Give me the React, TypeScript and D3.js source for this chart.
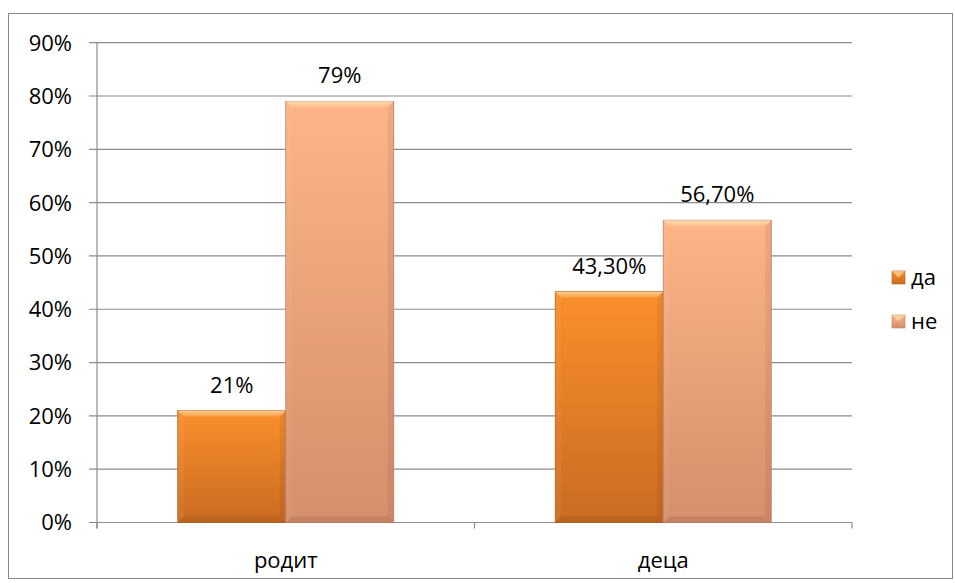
import React from "react";
import * as d3 from "d3";

const categories = ["родит", "деца"];
const seriesNames = ["да", "не"];
const daValues = [0.21, 0.433];
const neValues = [0.79, 0.567];
const valueLabels = [["21%", "79%"], ["43,30%", "56,70%"]];
const yTicks = [0, 0.1, 0.2, 0.3, 0.4, 0.5, 0.6, 0.7, 0.8, 0.9];

const W = 955, H = 583;
const margin = { left: 97, right: 852, top: 42.7, bottom: 522.5 };
const font = "'Open Sans', 'Liberation Sans', sans-serif";
const fs = 22;

export default function App() {
  const x0 = d3.scaleBand().domain(categories).range([margin.left, margin.right]).paddingInner(0).paddingOuter(0);
  const x1 = d3.scaleBand().domain(seriesNames).range([0, 216]);
  const y = d3.scaleLinear().domain([0, 0.9]).range([margin.bottom, margin.top]);
  const colorsTop = ["#FA8F2C", "#FDB486"];
  const colorsBot = ["#CA6B21", "#D68E6C"];
  const strokes = ["#B25E1C", "#C08064"];
  const series = [daValues, neValues];
  const bevel = 6;

  const bar = (cat: string, si: number, v: number, key: string) => {
    const cx = (x0(cat) as number) + x0.bandwidth() / 2;
    const bx = cx - 108 + (x1(seriesNames[si]) as number);
    const bw = x1.bandwidth();
    const by = y(v);
    const bh = y(0) - by;
    const b = Math.min(bevel, bh / 2);
    return (
      <g key={key}>
        <rect x={bx} y={by} width={bw} height={bh} fill={`url(#g${si})`} stroke={strokes[si]} strokeWidth={0.8} />
        <polygon points={`${bx},${by} ${bx + bw},${by} ${bx + bw - b},${by + b} ${bx + b},${by + b}`} fill="url(#topb)" opacity={0.75} />
        <polygon points={`${bx},${by} ${bx + b},${by + b} ${bx + b},${by + bh - b} ${bx},${by + bh}`} fill="#fff" opacity={0.05} />
        <polygon points={`${bx + bw},${by} ${bx + bw},${by + bh} ${bx + bw - b},${by + bh - b} ${bx + bw - b},${by + b}`} fill="#000" opacity={0.06} />
        <polygon points={`${bx},${by + bh} ${bx + bw},${by + bh} ${bx + bw - b},${by + bh - b} ${bx + b},${by + bh - b}`} fill="#000" opacity={0.08} />
      </g>
    );
  };

  return (
    <svg width={W} height={H} style={{ position: "absolute", left: 0, top: 0 }}>
      <defs>
        {[0, 1].map((i) => (
          <linearGradient key={i} id={`g${i}`} x1="0" y1="0" x2="0" y2="1">
            <stop offset="0" stopColor={colorsTop[i]} />
            <stop offset="1" stopColor={colorsBot[i]} />
          </linearGradient>
        ))}
        <linearGradient id="topb" x1="0" y1="0" x2="0" y2="1">
          <stop offset="0" stopColor="#FFF3C8" stopOpacity={0.9} />
          <stop offset="1" stopColor="#FFE0A0" stopOpacity={0.3} />
        </linearGradient>
      </defs>
      <rect x={8.5} y={13.5} width={944} height={565} fill="#fff" stroke="#888" strokeWidth={1} />
      {yTicks.map((t) => (
        <g key={t}>
          <line x1={margin.left - 8} x2={margin.right} y1={y(t)} y2={y(t)} stroke="#8c8c8c" strokeWidth={1.2} />
          <text x={72} y={y(t)} dy="0.36em" textAnchor="end" fontFamily={font} fontSize={fs} fill="#000">
            {Math.round(t * 100)}%
          </text>
        </g>
      ))}
      <line x1={margin.left} x2={margin.left} y1={margin.top} y2={margin.bottom + 6} stroke="#8c8c8c" strokeWidth={1.2} />
      {[0, 1, 2].map((i) => {
        const xx = margin.left + i * x0.bandwidth();
        return <line key={i} x1={xx} x2={xx} y1={margin.bottom} y2={margin.bottom + 6} stroke="#8c8c8c" strokeWidth={1.2} />;
      })}
      {categories.map((c, ci) => (
        <g key={c}>
          {series.map((s, si) => bar(c, si, s[ci], c + si))}
          {series.map((s, si) => {
            const cx = (x0(c) as number) + x0.bandwidth() / 2 - 108 + (x1(seriesNames[si]) as number) + x1.bandwidth() / 2;
            return (
              <text key={si} x={cx} y={y(s[ci]) - 18} textAnchor="middle" fontFamily={font} fontSize={fs} fill="#000">
                {valueLabels[ci][si]}
              </text>
            );
          })}
          <text x={(x0(c) as number) + x0.bandwidth() / 2} y={560} dy="0.36em" textAnchor="middle" fontFamily={font} fontSize={fs} fill="#000">
            {c}
          </text>
        </g>
      ))}
      {seriesNames.map((n, i) => {
        const ly = 277 + i * 44;
        return (
          <g key={n}>
            <rect x={892} y={ly - 6} width={13} height={13} fill={`url(#g${i})`} stroke={strokes[i]} strokeWidth={0.6} />
            <polygon points={`${892},${ly - 6} ${905},${ly - 6} ${898.5},${ly + 0.5}`} fill="#FFE8B8" opacity={0.6} />
            <text x={911} y={ly} dy="0.36em" fontFamily={font} fontSize={fs} fill="#000">{n}</text>
          </g>
        );
      })}
    </svg>
  );
}
